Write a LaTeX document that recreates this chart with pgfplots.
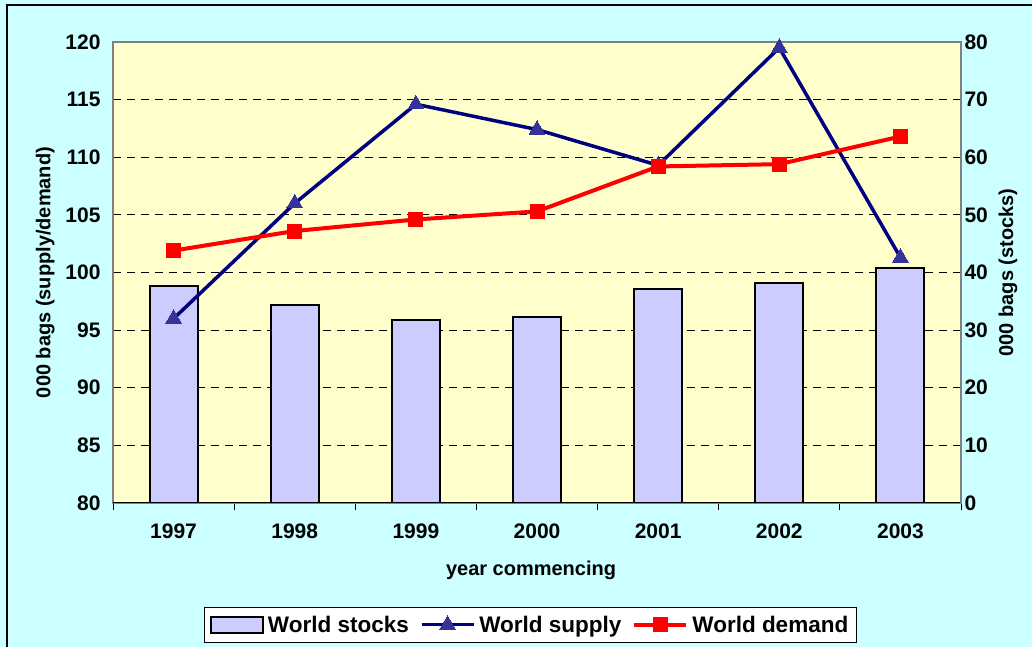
\documentclass[border=0pt]{standalone}
\usepackage{fontspec}
\setmainfont{Liberation Sans}
\usepackage{pgfplots}
\pgfplotsset{compat=1.18}
\definecolor{bgcyan}{HTML}{CCFFFF}
\definecolor{plotyellow}{HTML}{FFFFCC}
\definecolor{barfill}{HTML}{CCCCFF}
\definecolor{navyline}{HTML}{000080}
\definecolor{markblue}{HTML}{333399}
\definecolor{framegray}{HTML}{808080}
\pgfplotsset{
 linelegend/.style={legend image code/.code={\draw[##1, mark repeat=2, mark phase=2] plot coordinates {(0pt,0pt) (26pt,0pt) (52pt,0pt)};}},
 barlegend/.style={legend image code/.code={\draw[fill=barfill, draw=black, line width=1.8pt] (0pt,-8pt) rectangle (52pt,8pt);}},
}
\begin{document}
\begin{tikzpicture}[x=1pt,y=1pt]
\useasboundingbox (0,0) rectangle (1032,647);
\fill[bgcyan] (0,0) rectangle (1032,647);
\draw[line width=1.5pt] (7,-2) -- (7,642) -- (1034,642);
\pgfplotsset{
 common/.style={
  at={(113pt,144pt)}, anchor=south west, scale only axis,
  width=848pt, height=461pt,
  xmin=-0.5, xmax=6.5,
  tick label style={font=\fontsize{21}{24}\selectfont\bfseries},
  label style={font=\fontsize{20}{23}\selectfont\bfseries},
  /pgf/number format/assume math mode=true,
 }
}
% Axis A: background, grid, left axis, x axis
\begin{axis}[common,
  ymin=80, ymax=120, ytick={80,85,...,120},
  axis background/.style={fill=plotyellow},
  ymajorgrids, grid style={black, dash pattern=on 8pt off 6pt, line width=1pt},
  axis line style={framegray, line width=2pt},
  xtick={0,1,2,3,4,5,6},
  xticklabels={1997,1998,1999,2000,2001,2002,2003},
  major tick length=0pt,
  minor xtick={-0.5,0.5,...,6.5},
  minor tick length=7pt,
  minor tick style={black, line width=1pt},
  tick align=outside,
  ytick pos=left, xtick pos=bottom,
  xlabel={year commencing},
  xlabel style={at={(axis description cs:0.493,-0.1453)}, anchor=center},
  ylabel={000 bags (supply/demand)},
  ylabel style={at={(axis description cs:-0.080,0.5)}, anchor=center},
  yticklabel style={xshift=-9pt},
  xticklabel style={yshift=-17pt},
]
\addplot[draw=none] coordinates {(0,100)};
\draw[black, line width=2pt] (rel axis cs:0,0) -- (rel axis cs:1,0);
\end{axis}
% Axis B: bars on right axis
\begin{axis}[common,
  ymin=0, ymax=80, ytick={0,10,...,80},
  axis y line*=right, axis x line=none,
  axis line style={framegray, line width=2pt},
  major tick length=0pt,
  ylabel={000 bags (stocks)},
  ylabel style={at={(axis description cs:1.0554,0.5)}, anchor=center},
  yticklabel style={xshift=0pt},
]
\addplot[ybar, bar width=48pt, fill=barfill, draw=black, line width=2pt]
 coordinates {(0,37.7) (1,34.4) (2,31.8) (3,32.3) (4,37.1) (5,38.2) (6,40.7)};
\end{axis}
% Axis C: lines
\begin{axis}[common,
  ymin=80, ymax=120, hide axis, clip=false,
  legend columns=3,
  legend style={at={(axis description cs:0.492,-0.2640)}, anchor=center,
    draw=black, line width=1pt, fill=white,
    font=\fontsize{22.5}{25}\selectfont\bfseries,
    inner xsep=6pt, inner ysep=6.5pt,
    /tikz/every odd column/.append style={column sep=2pt},
    /tikz/every even column/.append style={column sep=9pt}},
]
\addlegendimage{barlegend}
\addlegendentry{World stocks}
\addplot[navyline, line width=3.5pt, mark=triangle*, mark size=9pt,
  mark options={fill=markblue, draw=markblue, line width=0pt}, linelegend]
 coordinates {(0,96.0) (1,106.0) (2,114.6) (3,112.4) (4,109.3) (5,119.5) (6,101.3)};
\addlegendentry{World supply}
\addplot[red, line width=4pt, mark=square*, mark size=7pt,
  mark options={fill=red, draw=red, line width=0pt}, linelegend]
 coordinates {(0,101.9) (1,103.6) (2,104.6) (3,105.3) (4,109.2) (5,109.4) (6,111.8)};
\addlegendentry{World demand}
\end{axis}
\end{tikzpicture}
\end{document}
